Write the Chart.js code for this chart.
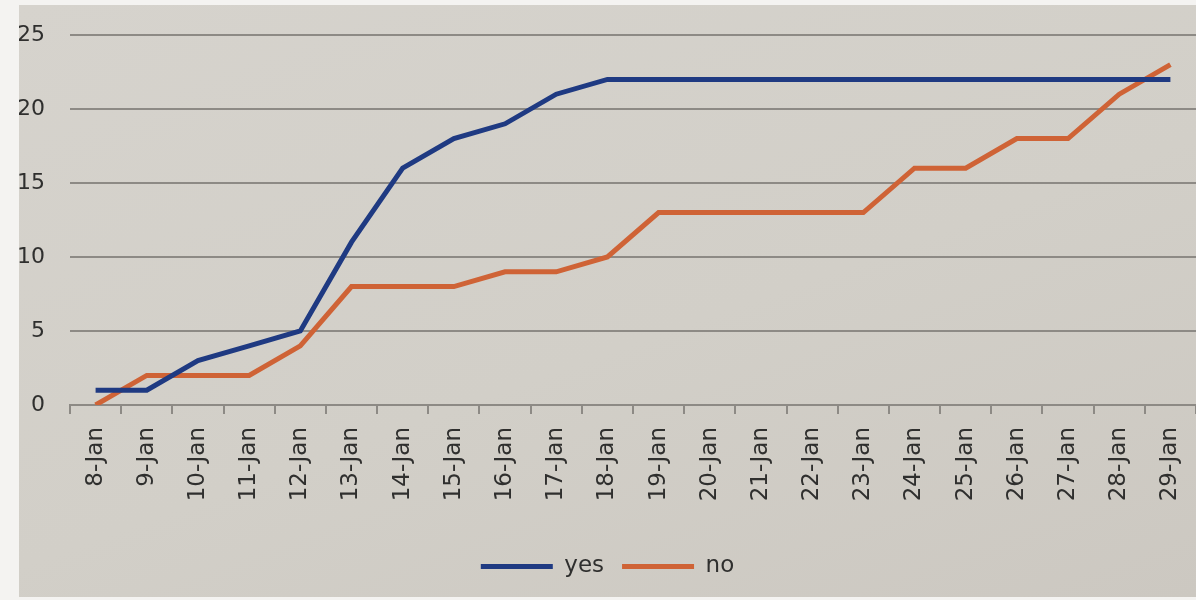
<!DOCTYPE html>
<html>
<head>
<meta charset="utf-8">
<script src="https://cdn.jsdelivr.net/npm/chart.js@4/dist/chart.umd.min.js"></script>
<style>
  html, body { margin: 0; padding: 0; background: #f4f3f1; }
  body { width: 1196px; height: 600px; position: relative; overflow: hidden; }
  #sheet {
    position: absolute; left: 19px; top: 5px; width: 1177px; height: 592px;
    background: linear-gradient(160deg, #d6d3cd 0%, #d2cfc8 55%, #ccc8c1 100%);
  }
  canvas { display: block; }
</style>
</head>
<body>
<div id="sheet"><canvas id="chart" width="1177" height="592"></canvas></div>
<script>
// Daily running totals, 8 to 29 January
const days = ['8-Jan','9-Jan','10-Jan','11-Jan','12-Jan','13-Jan','14-Jan','15-Jan','16-Jan','17-Jan','18-Jan',
              '19-Jan','20-Jan','21-Jan','22-Jan','23-Jan','24-Jan','25-Jan','26-Jan','27-Jan','28-Jan','29-Jan'];
const yesCounts = [1, 1, 3, 4, 5, 11, 16, 18, 19, 21, 22, 22, 22, 22, 22, 22, 22, 22, 22, 22, 22, 22];
const noCounts  = [0, 2, 2, 2, 4, 8, 8, 8, 9, 9, 10, 13, 13, 13, 13, 13, 16, 16, 18, 18, 21, 23];
const yTicks = [0, 5, 10, 15, 20, 25];

const YES_COLOR = '#1f3a82';
const NO_COLOR = '#cf6336';
const INK = '#2f2f2e';
const RULE = '#8d8a85';

Chart.defaults.font.family = '"DejaVu Sans", sans-serif';
Chart.defaults.color = INK;

new Chart(document.getElementById('chart'), {
  type: 'line',
  data: {
    labels: days,
    datasets: [
      { label: 'yes', data: yesCounts, borderColor: YES_COLOR, backgroundColor: YES_COLOR,
        borderWidth: 5, pointRadius: 0, pointStyle: 'line', tension: 0 },
      { label: 'no', data: noCounts, borderColor: NO_COLOR, backgroundColor: NO_COLOR,
        borderWidth: 5, pointRadius: 0, pointStyle: 'line', tension: 0 }
    ]
  },
  options: {
    responsive: false,
    animation: false,
    layout: { padding: { top: 30, right: 0, bottom: 9, left: 0 } },
    plugins: {
      tooltip: { enabled: false },
      legend: {
        position: 'bottom',
        labels: {
          usePointStyle: true,
          pointStyleWidth: 72,
          boxHeight: 24,
          padding: 18,
          font: { size: 23 },
          color: INK
        }
      }
    },
    scales: {
      x: {
        offset: true,
        grid: { display: true, drawOnChartArea: false, offset: true, drawTicks: true,
                tickLength: 9, color: RULE, lineWidth: 2 },
        border: { display: true, color: RULE, width: 2 },
        ticks: { autoSkip: false, minRotation: 90, maxRotation: 90, padding: 13,
                 font: { size: 23 }, color: INK },
        afterFit: s => { s.height = 132; s.paddingLeft = 0; s.paddingRight = 0; }
      },
      y: {
        min: 0, max: 25,
        afterBuildTicks: s => { s.ticks = yTicks.map(v => ({ value: v })); },
        grid: { color: RULE, lineWidth: 2, drawTicks: false },
        border: { display: false },
        ticks: { padding: 25, font: { size: 22 }, color: INK },
        afterFit: s => { s.width = 51; s.paddingTop = 0; s.paddingBottom = 0; }
      }
    }
  }
});
</script>
</body>
</html>
